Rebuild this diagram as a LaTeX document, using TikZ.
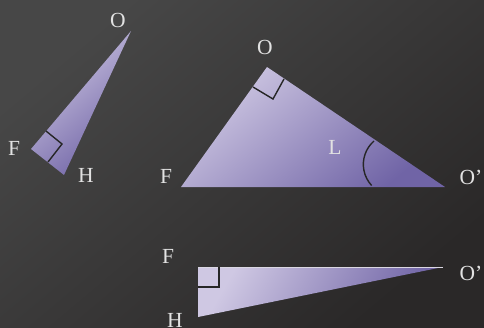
\documentclass[tikz,border=0pt]{standalone}
\usepackage{fontspec}
\setmainfont{Liberation Serif}
\definecolor{bgA}{HTML}{474747}
\definecolor{bgB}{HTML}{2A2828}
\definecolor{triL}{HTML}{CFC8E3}
\definecolor{triD}{HTML}{7064A6}
\definecolor{lab}{HTML}{E2E2E2}
\tikzset{
  tri/.style={shading=axis, top color=triL, bottom color=triD, shading angle=40},
  lbl/.style={text=lab, font=\fontsize{21.5}{24}\selectfont, inner sep=0pt},
  rmark/.style={draw=black!85, line width=1.4pt},
}
\begin{document}
\begin{tikzpicture}[x=1pt,y=-1pt]
\useasboundingbox (0,0) rectangle (484,327);
\shade[top color=bgA, bottom color=bgB, shading angle=40] (0,0) rectangle (484,327);
% small triangle
\coordinate (sO) at (131,31);
\coordinate (sF) at (31,149);
\coordinate (sH) at (64,175);
\shade[tri] (sO) -- (sF) -- (sH) -- cycle;
\draw[rmark] (46,131) -- (62,144) -- (48,162);
\node[lbl] (lsO) at (118,20) {O};
\node[lbl] (lsF) at (14,148) {F};
\node[lbl] (lsH) at (86,175) {H};
% big triangle
\coordinate (bO) at (267,67);
\coordinate (bF) at (181,187);
\coordinate (bP) at (445,187);
\shade[tri] (bO) -- (bF) -- (bP) -- cycle;
\draw[rmark] (253,87) -- (273,99) -- (284,79);
\draw[rmark] (374,141) arc[start angle=229, end angle=137, radius=31];
\node[lbl] (lbO) at (265,47) {O};
\node[lbl] (lbF) at (166,176) {F};
\node[lbl] (lbP) at (471,177) {O’};
\node[lbl] (lbL) at (335,147) {L};
% bottom triangle
\coordinate (tF) at (198,267);
\coordinate (tP) at (443,267);
\coordinate (tH) at (198,317);
\shade[tri, shading angle=60] (tF) -- (tP) -- (tH) -- cycle;
\draw[lab!60!triL, line width=0.5pt] (tF) -- (tP);
\draw[rmark] (198,287) -- (219,287) -- (219,267);
\node[lbl] (ltF) at (168,256) {F};
\node[lbl] (ltH) at (175,320) {H};
\node[lbl] (ltP) at (471,273) {O’};
\end{tikzpicture}
\end{document}
